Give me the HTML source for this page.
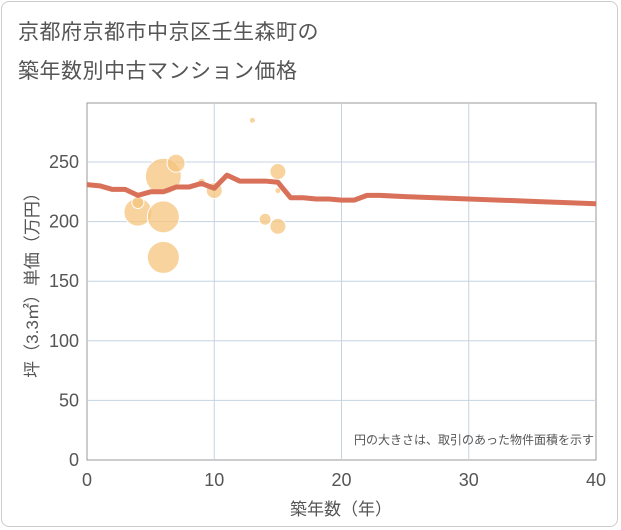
<!DOCTYPE html>
<html><head><meta charset="utf-8"><style>
body{margin:0;background:#fff;font-family:"Liberation Sans","Noto Sans CJK JP",sans-serif}
#wrap{position:relative;width:621px;height:530px;overflow:hidden}
#frame{position:absolute;left:1px;top:1px;width:617px;height:526px;border:1px solid #ccc;border-radius:8px;box-sizing:border-box}
.t{position:absolute;left:18px;font-size:21px;color:#555;letter-spacing:0.5px}
</style></head><body>
<div id="wrap">
<div id="frame"></div>
<div class="t" style="top:16px">京都府京都市中京区壬生森町の</div>
<div class="t" style="top:55px">築年数別中古マンション価格</div>
<svg id="svg" width="621" height="530" style="position:absolute;left:0;top:0"></svg>
</div>
<script>
const lineX=[0,1,2,3,4,5,6,7,8,9,10,11,12,13,14,15,16,17,18,19,20,21,22,23,25,30,35,40];
const lineY=[231,230,227,227,222,225,225,229,229,232,228,239,234,234,234,233,220,220,219,219,218,218,222,222,221,219,217,215];
const bubX=[4,4,6,7,6,6,10,9,13,15,15,14,15];
const bubY=[208,216,238,249,204,170,226,233,285,242,226,202,196];
const bubR=[14,6,18,9,16,16,8,4,3,8,3,6,8];
const xTicks=[0,10,20,30,40];
const yTicks=[0,50,100,150,200,250];
const L=87,R=596,T=103,B=460;
const sx=v=>L+v/40*(R-L);
const sy=v=>B-v/250*(B-162);
const svg=document.getElementById('svg');
const NS='http://www.w3.org/2000/svg';
function mk(tag,attrs,name,parent){const e=document.createElementNS(NS,tag);for(const k in attrs)e.setAttribute(k,attrs[k]);


(parent||svg).appendChild(e);return e;}
mk('rect',{x:L,y:T,width:R-L,height:B-T,fill:'#fff',stroke:'#999','stroke-width':1},'plot-area');
xTicks.forEach(v=>{if(v>0&&v<40)mk('line',{x1:sx(v),x2:sx(v),y1:T,y2:B,stroke:'#c5d3e0'},'x-gridline');
const t=mk('text',{x:sx(v),y:B+26,'text-anchor':'middle','font-size':18,fill:'#555'},'x-tick-label');t.textContent=v;});
yTicks.forEach(v=>{if(v>0)mk('line',{x1:L,x2:R,y1:sy(v),y2:sy(v),stroke:'#c5d3e0'},'y-gridline');
const t=mk('text',{x:L-8,y:sy(v)+6,'text-anchor':'end','font-size':18,fill:'#555'},'y-tick-label');t.textContent=v;});
bubX.forEach((v,i)=>mk('circle',{cx:sx(v),cy:sy(bubY[i]),r:bubR[i],fill:'#f5c47e','fill-opacity':0.75,stroke:'#fff','stroke-width':1},'bubble'));
mk('polyline',{points:lineX.map((v,i)=>sx(v)+','+sy(lineY[i])).join(' '),fill:'none',stroke:'#d9705a','stroke-width':5,'stroke-linejoin':'round'},'average-price-line');
let t=mk('text',{x:341,y:515,'text-anchor':'middle','font-size':17,fill:'#555'},'x-axis-title');t.textContent='築年数（年）';
t=mk('text',{x:0,y:0,'text-anchor':'middle','font-size':17,fill:'#555',transform:'translate(38,281) rotate(-90)'},'y-axis-title');t.textContent='坪（3.3㎡）単価（万円）';
t=mk('text',{x:594,y:444,'text-anchor':'end','font-size':12,fill:'#555'},'bubble-size-note');t.textContent='円の大きさは、取引のあった物件面積を示す';
</script>
</body></html>
